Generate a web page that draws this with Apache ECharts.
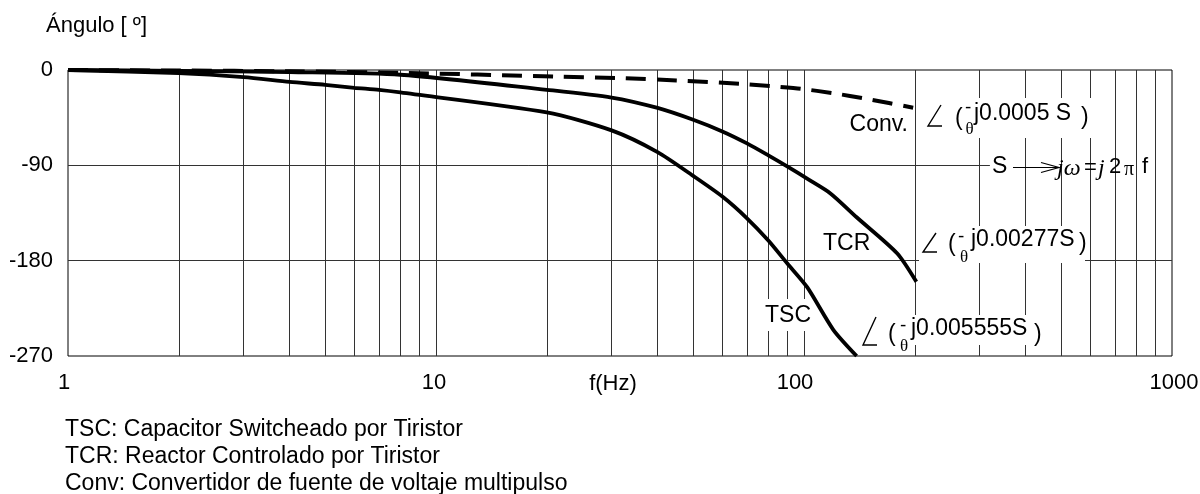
<!DOCTYPE html>
<html>
<head>
<meta charset="utf-8">
<script src="https://cdn.jsdelivr.net/npm/echarts@6/dist/echarts.min.js"></script>
<style>
  html, body { margin: 0; padding: 0; background: #fff; }
  #chart { width: 1200px; height: 494px; }
</style>
</head>
<body>
<div id="chart"></div>
<script>
// Phase angle (degrees) versus frequency (Hz) for three delay models
const xTicks = [1, 10, 100, 1000];
const yTicks = [0, -90, -180, -270];
const gridFreqs = [2, 3, 4, 5, 6, 7, 8, 9, 10, 20, 30, 40, 50, 60, 70, 80, 90, 100, 200, 300, 400, 500, 600, 700, 800, 900];
const refLineEnd = 320;   // the -90 reference line stops at the "S" note

// [f (Hz), angle (deg)]
const tscPoints = [[1, 0], [2, -3], [3, -6.8], [4, -11.3], [5, -14], [6, -16.8], [7, -18.8], [8, -21.2],
  [20, -40], [30, -57], [40, -77.5], [50, -100], [60, -119.5], [70, -140], [80, -161], [90, -182.5],
  [102, -205], [120, -245], [139, -270]];
const tcrPoints = [[1, 0], [2, -0.8], [4, -2], [8, -4.5], [20, -18.7], [30, -26], [40, -35.8], [50, -47],
  [60, -58], [70, -69.3], [80, -80.6], [90, -91], [103, -103.5], [118, -116.5], [139, -139], [179, -173], [202, -200]];
const convPoints = [[1, 0], [2, -0.5], [4, -1.2], [8, -2.6], [21, -6.1], [32, -7.7], [45, -9.9], [67, -13],
  [82, -15.3], [98, -17.7], [120, -21.9], [148, -27.2], [198, -35.6]];

const notes = [
  'TSC: Capacitor Switcheado por Tiristor',
  'TCR: Reactor Controlado por Tiristor',
  'Conv: Convertidor de fuente de voltaje multipulso'
];

const SANS = '"Liberation Sans", Arial, sans-serif';
const SERIF = '"Liberation Serif", "Times New Roman", serif';

const chart = echarts.init(document.getElementById('chart'), null, { renderer: 'canvas' });

function txt(text, x, y, size, opts) {
  opts = opts || {};
  return {
    type: 'text', z: 110,
    style: {
      text: text, x: x, y: y,
      font: (opts.italic ? 'italic ' : '') + size + 'px ' + (opts.family || SANS),
      fill: '#000',
      textAlign: opts.align || 'left',
      textVerticalAlign: 'middle'
    }
  };
}
function box(x, y, w, h) {
  return { type: 'rect', z: 105, shape: { x: x, y: y, width: w, height: h }, style: { fill: '#fff' } };
}
function angleMark(x, top, bottom, w) {
  return {
    type: 'polyline', z: 110,
    shape: { points: [[x + w, top], [x, bottom], [x + w + 1, bottom]] },
    style: { stroke: '#000', lineWidth: 1.4, fill: null }
  };
}

const gridLineStyle = { color: '#333', width: 1, type: 'solid' };
const markData = gridFreqs.map(v => ({ xAxis: v }));
markData.push([{ coord: [1, -90] }, { coord: [refLineEnd, -90] }]);
markData.push([{ coord: [1, -180] }, { coord: [1000, -180] }]);

const curveStyle = { color: '#000', width: 3.8 };

// decade labels sit slightly off their grid lines
const tickStyle = { fontFamily: SANS, fontSize: 22, color: '#000' };
const tickRich = {
  a: Object.assign({ padding: [0, 8, 0, 0] }, tickStyle),
  b: Object.assign({ padding: [0, 4, 0, 0] }, tickStyle),
  c: Object.assign({ padding: [0, 18, 0, 0] }, tickStyle),
  d: Object.assign({ padding: [0, 0, 0, 4] }, tickStyle)
};
const tickKeys = { 1: 'a', 10: 'b', 100: 'c', 1000: 'd' };

const option = {
  animation: false,
  backgroundColor: '#fff',
  grid: {
    left: 68, right: 28, top: 70, bottom: 138, containLabel: false, outerBoundsMode: 'none',
    show: true, borderColor: '#000', borderWidth: 1, backgroundColor: 'transparent'
  },
  xAxis: {
    type: 'log', logBase: 10, min: 1, max: 1000,
    axisLine: { show: false }, axisTick: { show: false },
    splitLine: { show: false },
    axisLabel: {
      margin: 16, fontFamily: SANS, fontSize: 22, color: '#000', rich: tickRich,
      formatter: v => (xTicks.indexOf(v) >= 0 ? '{' + tickKeys[v] + '|' + v + '}' : '')
    }
  },
  yAxis: {
    type: 'value', min: -270, max: 0, interval: 90,
    axisLine: { show: false }, axisTick: { show: false },
    splitLine: { show: false },
    axisLabel: {
      margin: 15, fontFamily: SANS, fontSize: 22, color: '#000', padding: [7, 0, 0, 0],
      formatter: v => (yTicks.indexOf(v) >= 0 ? String(v) : '')
    }
  },
  series: [
    {
      name: 'TSC', type: 'line', data: tscPoints, showSymbol: false, smooth: 0.25,
      lineStyle: curveStyle, z: 5,
      markLine: { silent: true, symbol: 'none', label: { show: false }, lineStyle: gridLineStyle, data: markData, z: 1 }
    },
    { name: 'TCR', type: 'line', data: tcrPoints, showSymbol: false, smooth: 0.25, lineStyle: curveStyle, z: 5 },
    {
      name: 'Conv', type: 'line', data: convPoints, showSymbol: false, smooth: 0.2, z: 5,
      lineStyle: { color: '#000', width: 4, type: [20, 11] }
    }
  ],
  graphic: [
    txt('Ángulo [ º]', 46, 26, 22),
    txt('f(Hz)', 613, 384, 22, { align: 'center' }),

    // Conv annotation
    txt('Conv.', 908, 125, 23, { align: 'right' }),
    box(924, 98, 172, 40),
    angleMark(928, 105, 126, 13),
    txt('(', 955, 119, 23),
    txt('-', 965, 108, 19),
    txt('θ', 969.5, 130, 17, { family: SERIF, align: 'center' }),
    txt('j0.0005 S', 974, 114, 23),
    txt(')', 1081, 118, 23),

    // s -> jω note
    txt('S', 992, 167, 23),
    { type: 'polyline', z: 110, shape: { points: [[1013, 167.5], [1058, 167.5]] }, style: { stroke: '#000', lineWidth: 1.2 } },
    { type: 'polyline', z: 110, shape: { points: [[1041, 162.5], [1059, 167.5], [1041, 172.5]] }, style: { stroke: '#000', lineWidth: 1.2, fill: null } },
    txt('jω', 1057, 169, 24, { italic: true, family: SERIF }),
    txt('=', 1084, 168, 22),
    txt('j', 1098, 169, 24, { italic: true, family: SERIF }),
    txt('2', 1109, 167, 22),
    txt('π', 1124, 170, 20, { family: SERIF }),
    txt('f', 1142, 167, 22),

    // TCR annotation
    txt('TCR', 823, 244, 23),
    box(919, 226, 166, 37),
    angleMark(923, 233, 252, 13),
    txt('(', 948, 245, 23),
    txt('-', 958, 237, 19),
    txt('θ', 964, 258, 17, { family: SERIF, align: 'center' }),
    txt('j0.00277S', 971, 240, 23),
    txt(')', 1079, 244, 23),

    // TSC annotation
    box(762, 299, 48, 32),
    txt('TSC', 765, 316, 23),
    box(859, 315, 186, 30),
    angleMark(863, 317, 345, 13),
    txt('(', 888, 335, 23),
    txt('-', 900, 326, 19),
    txt('θ', 904, 347, 17, { family: SERIF, align: 'center' }),
    txt('j0.005555S', 911, 329, 23),
    txt(')', 1034, 335, 23),

    // notes
    txt(notes[0], 65, 430, 23),
    txt(notes[1], 65, 457, 23),
    txt(notes[2], 65, 484, 23)
  ]
};

chart.setOption(option);
</script>
</body>
</html>
